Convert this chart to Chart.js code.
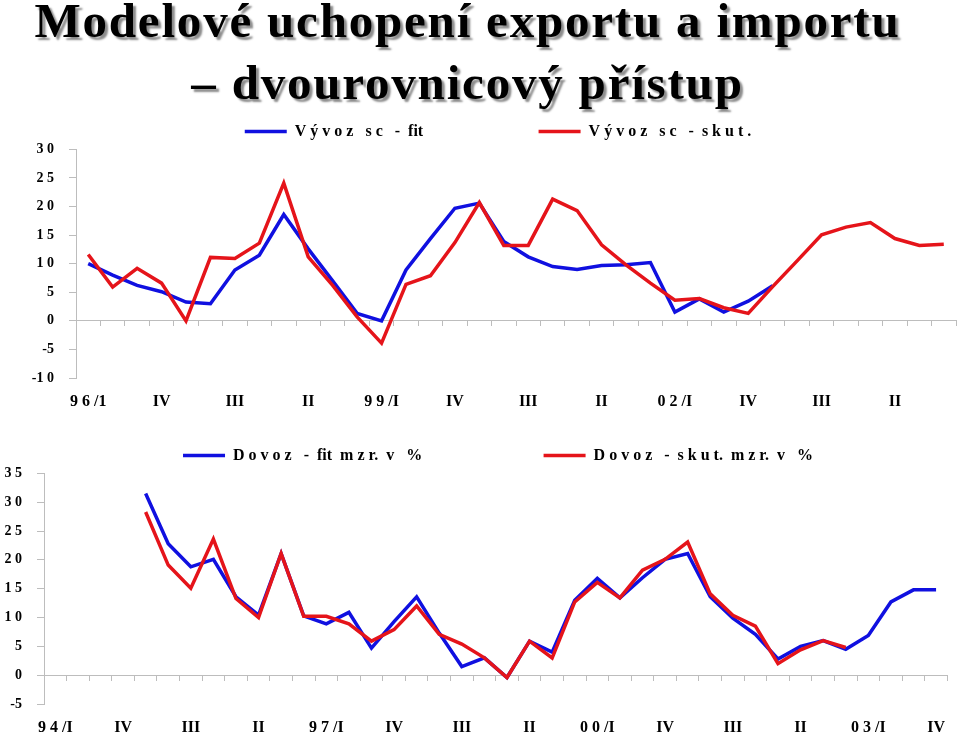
<!DOCTYPE html>
<html>
<head>
<meta charset="utf-8">
<script src="https://cdn.jsdelivr.net/npm/chart.js@4/dist/chart.umd.min.js"></script>
<style>
  html, body { margin: 0; padding: 0; background: #fff; }
  #page { position: relative; width: 959px; height: 735px; overflow: hidden; }
  #title {
    position: absolute; left: -12px; top: -10px; width: 959px;
    text-align: center; font: bold 49px "Liberation Serif", "Times New Roman", serif;
    line-height: 62px; letter-spacing: 1.8px; color: #000;
    text-shadow: 3px 3px 2px #8c8c8c;
  }
  #vyvoz { position: absolute; left: 0; top: 118px; }
  #dovoz { position: absolute; left: 0; top: 440px; }
</style>
</head>
<body>
<div id="page">
  <div id="title">Modelové uchopení exportu a importu<br>– dvourovnicový přístup</div>
  <canvas id="vyvoz" width="959" height="305"></canvas>
  <canvas id="dovoz" width="959" height="295"></canvas>
</div>
<script>
// vyvoz: 1996 Q1 .. 2004 Q4
const vyvozLabels = ['9 6 /1','','','IV','','','III','','','II','','',
  '9 9 /I','','','IV','','','III','','','II','','',
  '0 2 /I','','','IV','','','III','','','II','',''];
const vyvozFit = [10.0, 8.0, 6.2, 5.1, 3.3, 3.0, 8.9, 11.5, 18.6, 12.6, 7.0, 1.3,
  0.0, 8.9, 14.4, 19.7, 20.6, 13.9, 11.2, 9.5, 9.0, 9.7, 9.8, 10.2,
  1.55, 3.85, 1.55, 3.45, 6.15, null, null, null, null, null, null, null];
const vyvozSkut = [11.6, 5.9, 9.2, 6.6, 0.0, 11.1, 10.9, 13.6, 24.1, 11.2, 6.2, 0.7,
  -3.9, 6.4, 7.9, 13.7, 20.7, 13.2, 13.2, 21.3, 19.3, 13.3, 9.8, 6.6,
  3.6, 3.9, 2.3, 1.3, 6.0, 10.5, 15.05, 16.4, 17.2, 14.4, 13.2, 13.4];

// dovoz: 1994 Q1 .. 2003 Q4
const dovozLabels = ['9 4 /I','','','IV','','','III','','','II','','',
  '9 7 /I','','','IV','','','III','','','II','','',
  '0 0 /I','','','IV','','','III','','','II','','',
  '0 3 /I','','','IV'];
const dovozFit = [null, null, null, null, 31.5, 22.8, 18.8, 20.1, 13.6, 10.4, 21.1, 10.3,
  8.9, 10.9, 4.7, 9.3, 13.6, 7.3, 1.5, 3.0, -0.4, 5.9, 4.0, 13.0,
  16.8, 13.4, 16.9, 20.1, 21.1, 13.6, 9.9, 7.1, 2.8, 5.0, 6.0, 4.5,
  6.9, 12.7, 14.8, 14.8];
const dovozSkut = [null, null, null, null, 28.3, 19.1, 15.1, 23.6, 13.3, 10.0, 21.1, 10.2,
  10.2, 8.9, 5.9, 7.9, 12.0, 7.1, 5.4, 3.0, -0.4, 5.9, 3.0, 12.7,
  16.1, 13.4, 18.2, 20.1, 23.1, 14.1, 10.4, 8.5, 2.0, 4.4, 6.0, 4.8,
  null, null, null, null];

const BLUE = '#1010e0';
const RED = '#e5141a';
const AXIS = '#bdbdbd';

Chart.defaults.font.family = '"Liberation Serif", "Times New Roman", serif';
Chart.defaults.font.weight = 'bold';
Chart.defaults.color = '#000';

function spaced(v) {
  const s = String(Math.abs(v)).split('').join(' ');
  return v < 0 ? '-' + s : s;
}

// nudge the centred legend sideways (it sits a bit right of centre in the original)
const legendShift = {
  id: 'legendShift',
  afterLayout(chart, args, opts) {
    if (chart.legend && opts.dx) {
      chart.legend.left += opts.dx;
      chart.legend.right += opts.dx;
    }
  }
};

function makeChart(cfg) {
  new Chart(document.getElementById(cfg.id), {
    type: 'line',
    data: {
      labels: cfg.labels,
      datasets: [
        // red first so it is drawn on top; legend order is reversed below
        { label: cfg.skutName, data: cfg.skut, borderColor: RED, backgroundColor: RED,
          borderWidth: 3.5, pointRadius: 0, tension: 0, spanGaps: false },
        { label: cfg.fitName, data: cfg.fit, borderColor: BLUE, backgroundColor: BLUE,
          borderWidth: 3.5, pointRadius: 0, tension: 0, spanGaps: false }
      ]
    },
    plugins: [legendShift],
    options: {
      responsive: false,
      animation: false,
      layout: { padding: { top: cfg.padTop, right: 3, left: 0, bottom: 0 } },
      plugins: {
        tooltip: { enabled: false },
        legendShift: { dx: cfg.legendDx },
        legend: {
          position: 'top',
          labels: {
            usePointStyle: true,
            pointStyle: 'line',
            pointStyleWidth: 42,
            padding: cfg.legendPad,
            font: { size: 16, weight: 'bold' },
            sort: (a, b) => b.datasetIndex - a.datasetIndex,
            generateLabels: function (chart) {
              const items = Chart.defaults.plugins.legend.labels.generateLabels(chart);
              items.forEach(it => {
                it.lineWidth = 3.5;
                if (it.datasetIndex === 1) it.text = it.text + cfg.gap;
              });
              return items;
            }
          }
        }
      },
      scales: {
        x: {
          type: 'category',
          position: 'bottom',
          offset: true,
          grid: { display: false, drawTicks: false },
          border: { display: false },
          ticks: { autoSkip: false, maxRotation: 0, minRotation: 0, padding: 14,
                   font: { size: 16, weight: 'bold' } },
          afterFit: s => { s.height = cfg.xHeight; }
        },
        x0: {
          type: 'category',
          position: { y: 0 },
          offset: true,
          grid: { offset: true, drawOnChartArea: false, drawTicks: true, tickLength: 5,
                  color: AXIS, lineWidth: 1 },
          border: { display: true, color: AXIS, width: 1 },
          ticks: { display: false, autoSkip: false }
        },
        y: {
          position: 'left',
          min: cfg.yMin,
          max: cfg.yMax,
          grid: { drawOnChartArea: false, drawTicks: true, tickLength: 7, color: AXIS },
          border: { display: true, color: AXIS, width: 1 },
          ticks: { stepSize: 5, padding: 15, font: { size: 14, weight: 'bold' },
                   callback: v => spaced(v) },
          afterFit: s => { s.width = cfg.yWidth; }
        }
      }
    }
  });
}

makeChart({
  id: 'vyvoz', labels: vyvozLabels, fit: vyvozFit, skut: vyvozSkut,
  fitName: 'V ý v o z   s c   -  fit', skutName: 'V ý v o z   s c   -  s k u t .',
  yMin: -10, yMax: 30, yWidth: 76, xHeight: 45, legendDx: 20,
  padTop: 2, legendPad: 3.4, gap: '\u2003'.repeat(7)
});
makeChart({
  id: 'dovoz', labels: dovozLabels, fit: dovozFit, skut: dovozSkut,
  fitName: 'D o v o z   -  fit  m z r.  v   %', skutName: 'D o v o z   -  s k u t.  m z r.  v   %',
  yMin: -5, yMax: 35, yWidth: 44, xHeight: 31, legendDx: 20,
  padTop: 6, legendPad: 1.4, gap: '\u2003'.repeat(7) + '\u2002'
});
</script>
</body>
</html>
